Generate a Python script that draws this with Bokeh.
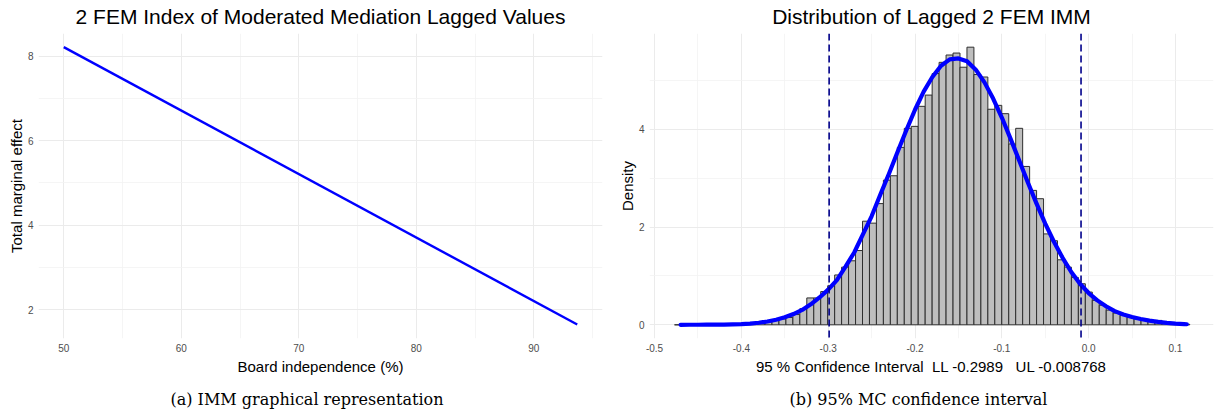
from bokeh.plotting import figure
from bokeh.models import Range1d, FixedTicker, NumeralTickFormatter, Span, Title, ColumnDataSource
from bokeh.layouts import row
from bokeh.embed import file_html
from bokeh.resources import INLINE

# ---------------- data ----------------
# (a) IMM graphical representation
board_independence = [50.0, 93.7]
total_marginal_effect = [8.21, 1.65]

# (b) Monte Carlo distribution of the lagged IMM
hist_start = -0.477
hist_binwidth = 0.00802
hist_density = [
    0.00, 0.00, 0.00, 0.00, 0.00, 0.00, 0.00, 0.01, 0.01, 0.02,
    0.02, 0.03, 0.05, 0.07, 0.09, 0.12, 0.15, 0.21, 0.33, 0.55,
    0.55, 0.68, 0.80, 1.02, 1.18, 1.31, 1.52, 2.12, 2.08, 2.48,
    2.96, 3.05, 3.63, 4.02, 4.06, 4.47, 4.70, 5.14, 5.37, 5.52,
    5.56, 5.27, 5.68, 5.12, 5.07, 4.41, 4.49, 4.32, 3.70, 4.02,
    3.24, 2.75, 2.58, 1.86, 1.72, 1.33, 1.18, 0.97, 0.84, 0.67,
    0.50, 0.40, 0.30, 0.24, 0.19, 0.15, 0.12, 0.10, 0.08, 0.09,
    0.04, 0.03, 0.02, 0.01,
]

curve_x = [
    -0.47, -0.46, -0.45, -0.44, -0.43, -0.42, -0.41, -0.40, -0.39, -0.38,
    -0.37, -0.36, -0.35, -0.34, -0.33, -0.32, -0.31, -0.30, -0.29, -0.28,
    -0.27, -0.26, -0.25, -0.24, -0.23, -0.22, -0.21, -0.20, -0.19, -0.18,
    -0.17, -0.16, -0.15, -0.14, -0.13, -0.12, -0.11, -0.10, -0.09, -0.08,
    -0.07, -0.06, -0.05, -0.04, -0.03, -0.02, -0.01, 0.00, 0.01, 0.02,
    0.03, 0.04, 0.05, 0.06, 0.07, 0.08, 0.09, 0.10, 0.11, 0.113,
]
curve_density = [
    0.000, 0.001, 0.001, 0.002, 0.003, 0.005, 0.008, 0.014, 0.024, 0.042,
    0.068, 0.105, 0.155, 0.220, 0.305, 0.420, 0.560, 0.720, 0.915, 1.190,
    1.480, 1.850, 2.220, 2.660, 3.090, 3.540, 3.980, 4.400, 4.770, 5.070,
    5.300, 5.430, 5.450, 5.390, 5.220, 4.960, 4.630, 4.240, 3.810, 3.360,
    2.910, 2.480, 2.070, 1.700, 1.370, 1.080, 0.840, 0.650, 0.500, 0.380,
    0.280, 0.210, 0.160, 0.120, 0.085, 0.060, 0.040, 0.025, 0.015, 0.012,
]

ci_ll = -0.2989
ci_ul = -0.008768

left_xticks = [50, 60, 70, 80, 90]
left_xminor = [55, 65, 75, 85, 95]
left_yticks = [2, 4, 6, 8]
left_yminor = [3, 5, 7]
right_xticks = [-0.5, -0.4, -0.3, -0.2, -0.1, 0.0, 0.1]
right_xminor = [-0.45, -0.35, -0.25, -0.15, -0.05, 0.05]
right_yticks = [0, 2, 4]
right_yminor = [1, 3, 5]

# the reference keeps its repeated spaces; no-break spaces stop SVG from collapsing them
right_xlabel = "95 % Confidence Interval \u00a0LL -0.2989 \u00a0\u00a0UL -0.008768"

FONT = "Liberation Sans"
CAP_FONT = "DejaVu Serif"


def style(p, xt, xm, yt, ym):
    p.outline_line_color = None
    p.background_fill_color = "white"
    p.border_fill_color = "white"
    xtick = FixedTicker(ticks=xt, minor_ticks=xm)
    ytick = FixedTicker(ticks=yt, minor_ticks=ym)
    p.xaxis.ticker = xtick
    p.yaxis.ticker = ytick
    p.xgrid.ticker = xtick
    p.ygrid.ticker = ytick
    for ax in (p.xaxis[0], p.yaxis[0]):
        ax.axis_line_color = None
        ax.major_tick_line_color = None
        ax.minor_tick_line_color = None
        ax.major_tick_out = 0
        ax.major_tick_in = 0
        ax.minor_tick_out = 0
        ax.minor_tick_in = 0
        ax.major_label_text_font = FONT
        ax.major_label_text_font_size = "10px"
        ax.major_label_text_color = "#4D4D4D"
        ax.axis_label_text_font = FONT
        ax.axis_label_text_font_size = "15px"
        ax.axis_label_text_font_style = "normal"
        ax.axis_label_text_color = "black"
    p.xaxis.major_label_standoff = 5
    p.xaxis.axis_label_standoff = 3
    p.yaxis.major_label_standoff = 5
    p.yaxis.axis_label_standoff = 0
    for g in (p.xgrid[0], p.ygrid[0]):
        g.grid_line_color = "#EBEBEB"
        g.grid_line_width = 1
        g.minor_grid_line_color = "#F2F2F2"
        g.minor_grid_line_width = 0.8
    p.title.align = "center"
    p.title.vertical_align = "top"
    p.title.text_font = FONT
    p.title.text_font_size = "21px"
    p.title.text_font_style = "normal"
    p.title.text_color = "black"
    p.title.standoff = 8


def add_caption(p, text, left_offset):
    cap = Title(text=text, align="left", offset=left_offset, text_font=CAP_FONT,
                text_font_size="16px", text_font_style="normal", text_color="black", standoff=20)
    p.add_layout(cap, "below")


# ---------------- left panel ----------------
p1 = figure(width=605, height=418, x_range=Range1d(47.85, 95.85), y_range=Range1d(1.318, 8.533),
            toolbar_location=None, output_backend="svg",
            min_border_left=38, min_border_right=3, min_border_top=33, min_border_bottom=78,
            title="2 FEM Index of Moderated Mediation Lagged Values",
            x_axis_label="Board independence (%)", y_axis_label="Total marginal effect")
style(p1, left_xticks, left_xminor, left_yticks, left_yminor)
p1.line(board_independence, total_marginal_effect, line_color="#0000FF", line_width=2.4)
add_caption(p1, "(a) IMM graphical representation", 132)

# ---------------- right panel ----------------
lefts = [hist_start + i * hist_binwidth for i in range(len(hist_density))]
rights = [l + hist_binwidth for l in lefts]
src = ColumnDataSource(dict(left=lefts, right=rights, top=hist_density, bottom=[0] * len(hist_density)))

p2 = figure(width=609, height=418, x_range=Range1d(-0.5058, 0.1438), y_range=Range1d(-0.28, 5.96),
            toolbar_location=None, output_backend="svg",
            min_border_left=44, min_border_right=1, min_border_top=33, min_border_bottom=78,
            title="Distribution of Lagged 2 FEM IMM",
            x_axis_label=right_xlabel, y_axis_label="Density")
style(p2, right_xticks, right_xminor, right_yticks, right_yminor)
p2.xaxis.formatter = NumeralTickFormatter(format="0.0")
p2.quad(left="left", right="right", top="top", bottom="bottom", source=src,
        fill_color="#BEBEBE", line_color="#2E2E2E", line_width=1)
p2.line(curve_x, curve_density, line_color="#0000FF", line_width=4.2, line_join="round", line_cap="round")
for loc in (ci_ll, ci_ul):
    p2.add_layout(Span(location=loc, dimension="height", line_color="#00008B",
                       line_width=1.6, line_dash="7 4"))
add_caption(p2, "(b) 95% MC confidence interval", 140)

layout = row(p1, p2)
open("out.html", "w").write(file_html(layout, INLINE))
